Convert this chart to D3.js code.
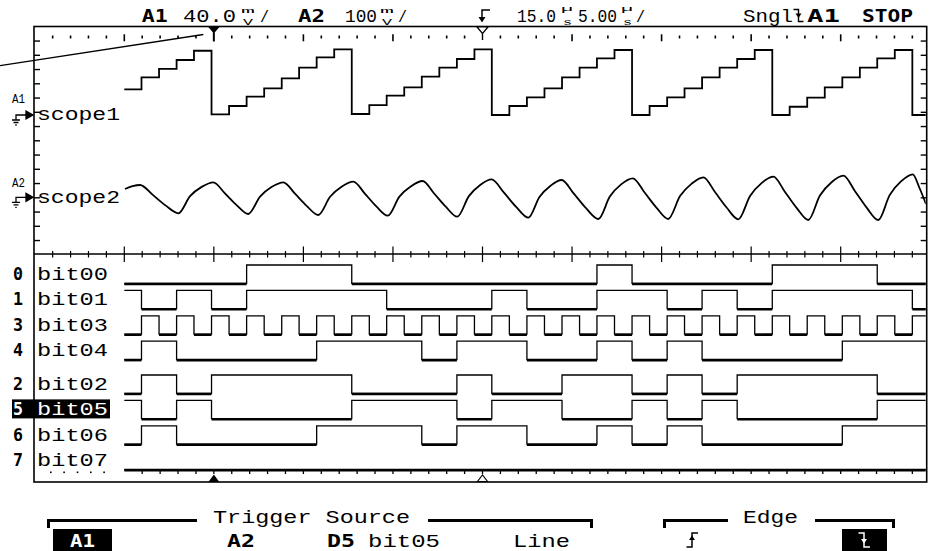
<!DOCTYPE html>
<html><head><meta charset="utf-8">
<script src="https://cdn.jsdelivr.net/npm/d3@7"></script>
<style>
body{margin:0;background:#fff}
svg{display:block}
text{font-family:"Liberation Mono","DejaVu Sans Mono",monospace}
text.b{font-family:"DejaVu Sans Mono",monospace;font-weight:bold}
</style>
</head><body>
<svg id="c" width="929" height="551"></svg>
<script>
// ---------------- DATA (time in µs, trigger = 0) ----------------
const edgeTimes = [-4.04, -3.06, -2.08, -1.11, -0.13, 0.85, 1.83, 2.81, 3.79, 4.76, 5.74, 6.72, 7.70, 8.68, 9.65, 10.63, 11.61, 12.59, 13.57, 14.55, 15.52, 16.50, 17.48, 18.46, 19.44, 20.42, 21.39, 22.37, 23.35, 24.33, 25.31, 26.28, 27.26, 28.24, 29.22, 30.20, 31.18, 32.15, 33.13, 34.11, 35.09, 36.07, 37.04, 38.02, 39.00];
const traceStart = -5.0;
// A1 (scope1) staircase, mV
const scope1Initial = 36.1;
const scope1Levels = [52.9, 64.6, 77.2, 90.2, 1.0, 12.6, 25.7, 37.5, 51.5, 66.4, 81.0, 92.2, 1.4, 14.0, 27.1, 38.9, 53.8, 66.4, 78.6, 92.2, 0.0, 12.6, 24.8, 37.5, 52.9, 66.4, 79.6, 91.2, 0.0, 12.6, 24.8, 37.5, 52.9, 66.4, 78.6, 91.2, 0.0, 11.6, 24.3, 38.9, 52.9, 66.4, 79.6, 91.2, 0.0];
// A2 (scope2), mV
const scope2Times = [-4.96, -4.54, -4.12, -3.41, -2.70, -1.98, -1.33, -0.68, -0.03, 0.62, 1.27, 1.92, 2.58, 3.22, 3.88, 4.53, 5.18, 5.83, 6.49, 7.13, 7.79, 8.43, 9.06, 9.71, 10.36, 11.01, 11.66, 12.30, 12.95, 13.59, 14.24, 14.87, 15.51, 16.20, 16.88, 17.56, 18.18, 18.80, 19.42, 20.10, 20.78, 21.47, 22.11, 22.74, 23.39, 24.05, 24.71, 25.37, 26.03, 26.68, 27.33, 27.98, 28.63, 29.28, 29.94, 30.58, 31.24, 31.89, 32.54, 33.19, 33.84, 34.49, 35.15, 35.80, 36.45, 37.10, 37.74, 38.38, 39.02, 39.40, 39.76];
const scope2Values = [29.1, 38.9, 43.2, 8.4, -28.4, -56.1, 3.9, 36.5, 52.6, 13.7, -27.4, -58.6, 2.5, 35.8, 52.6, 12.6, -29.8, -62.1, 2.1, 37.2, 54.7, 13.0, -31.2, -64.6, 2.5, 38.9, 57.2, 13.3, -33.0, -68.1, 4.2, 43.5, 63.2, 16.1, -33.7, -71.6, 1.1, 40.7, 60.7, 12.6, -37.9, -76.1, 2.5, 45.3, 66.7, 16.8, -36.1, -76.1, 4.2, 48.1, 70.2, 18.6, -35.8, -77.2, 4.9, 49.8, 72.3, 18.9, -37.2, -79.7, 6.0, 52.6, 75.8, 21.4, -36.1, -79.7, 8.4, 56.5, 80.7, 32.6, -23.5];
// Digital channels
const digitalNumbers = ["0", "1", "3", "4", "2", "5", "6", "7"];
const digitalNames = ["bit00", "bit01", "bit03", "bit04", "bit02", "bit05", "bit06", "bit07"];
const digitalInitial = [0, 1, 0, 0, 0, 1, 0, 0];
const bit00Toggles = [1.83, 7.70, 21.39, 23.35, 31.18, 37.04];
const bit01Toggles = [-4.04, -2.08, -0.13, 1.83, 9.65, 15.52, 17.48, 21.39, 25.31, 27.26, 29.22, 31.18, 39.00];
const bit03Toggles = edgeTimes;
const bit04Toggles = [-4.04, -2.08, 5.74, 11.61, 13.57, 17.48, 21.39, 23.35, 25.31, 27.26, 35.09];
const bit02Toggles = [-4.04, -2.08, -0.13, 7.70, 13.57, 15.52, 19.44, 23.35, 25.31, 27.26, 29.22, 37.04];
const bit05Toggles = [-4.04, -2.08, -0.13, 7.70, 13.57, 15.52, 19.44, 23.35, 25.31, 27.26, 29.22, 37.04];
const bit06Toggles = [-4.04, -2.08, 5.74, 11.61, 13.57, 17.48, 21.39, 23.35, 25.31, 27.26, 35.09];
const bit07Toggles = [];
const digitalToggles = [bit00Toggles, bit01Toggles, bit03Toggles, bit04Toggles, bit02Toggles, bit05Toggles, bit06Toggles, bit07Toggles];
const selectedChannel = "bit05";
// Header / menu texts
const headerCh1 = ["A1", "40.0"], headerCh2 = ["A2", "100"];
const headerTime = ["15.0", "5.00"];
const headerStatus = ["Sngl", "A1", "STOP"];
const menuTitles = ["Trigger Source", "Edge"];
const menuItems = ["A1", "A2", "D5", "bit05", "Line"];

// ---------------- LAYOUT ----------------
const svg = d3.select("#c");
const F = {x0: 34, x1: 926.7, y0: 26.5, y1: 482, divY: 254};
const x = d3.scaleLinear().domain([-10, 40]).range([34.75, 930.25]);
const tEnd = x.invert(F.x1);
const yA1 = d3.scaleLinear().domain([0, 40]).range([115, 86.5]);
const yA2 = d3.scaleLinear().domain([0, 100]).range([197.3, 168.8]);
const ySub = d3.scaleLinear().domain([0, 16]).range([26.8, 254.8]);
const rowTop = i => (i < 4 ? 265 + i * 25.4 : 375 + (i - 4) * 25.4);
const swing = 18.3;

function T(parent, s, px, py, size, len, bold, fill) {
  const t = parent.append("text").attr("x", px).attr("y", py).attr("font-size", size).text(s)
    .style("fill", fill || "#000");
  if (len) t.attr("textLength", len).attr("lengthAdjust", "spacingAndGlyphs");
  if (bold) t.attr("class", "b");
  return t;
}

svg.append("defs").append("clipPath").attr("id", "clip")
  .append("rect").attr("x", F.x0 + 1).attr("y", F.y0 + 1).attr("width", F.x1 - F.x0 - 2).attr("height", F.y1 - F.y0 - 2);

// Frame
svg.append("rect").attr("x", F.x0).attr("y", F.y0).attr("width", F.x1 - F.x0).attr("height", F.y1 - F.y0)
  .attr("fill", "none").attr("stroke", "#000").attr("stroke-width", 1.6);

const minorT = d3.range(-9, 40).filter(v => v % 5 !== 0);
const majorT = d3.range(-5, 40, 5);
const g = svg.append("g").attr("stroke", "#000");

// top tick row
g.selectAll(".tmin").data(minorT).join("line").attr("x1", d => x(d)).attr("x2", d => x(d))
  .attr("y1", 35.5).attr("y2", 38.5).attr("stroke-width", 1.6);
g.selectAll(".tmaj").data(majorT.filter(d => d !== 0 && d !== 15)).join("line").attr("x1", d => x(d)).attr("x2", d => x(d))
  .attr("y1", 34.3).attr("y2", 41.3).attr("stroke-width", 1.6);

// divider row
g.append("line").attr("x1", F.x0).attr("x2", F.x1).attr("y1", F.divY).attr("y2", F.divY).attr("stroke-width", 1.4);
g.selectAll(".dmin").data(minorT).join("line").attr("x1", d => x(d)).attr("x2", d => x(d))
  .attr("y1", F.divY - 3).attr("y2", F.divY + 3.5).attr("stroke-width", 1.2);
g.selectAll(".dmaj").data(majorT).join("line").attr("x1", d => x(d)).attr("x2", d => x(d))
  .attr("y1", F.divY - 7.5).attr("y2", F.divY + 8).attr("stroke-width", 1.2);

// side ticks (analog area)
const sideN = d3.range(1, 16);
g.selectAll(".lt").data(sideN).join("line").attr("x1", F.x0).attr("x2", F.x0 + 6)
  .attr("y1", d => ySub(d)).attr("y2", d => ySub(d)).attr("stroke-width", 1.4);
g.selectAll(".rt").data(sideN).join("line").attr("x1", F.x1 - 6).attr("x2", F.x1)
  .attr("y1", d => ySub(d)).attr("y2", d => ySub(d)).attr("stroke-width", 1.4);

// bottom tick row (below bit07 trace)
const botT = d3.range(-4, 40);
g.selectAll(".bt").data(botT).join("line").attr("x1", d => x(d)).attr("x2", d => x(d))
  .attr("y1", 470).attr("y2", 474).attr("stroke-width", 1.3);
svg.selectAll(".bdot").data([50, 63.3, 76.7, 90, 103.3]).join("rect")
  .attr("x", d => d).attr("y", 471.5).attr("width", 1.6).attr("height", 1.6).attr("fill", "#000");

// trigger markers
const xt = x(0), xd = x(15);
svg.append("path").attr("d", `M${xt-6},${F.y0} L${xt+6},${F.y0} L${xt},${F.y0+7} Z`).attr("fill", "#000");
svg.append("line").attr("x1", xt).attr("x2", xt).attr("y1", F.y0 + 6).attr("y2", 41.5).attr("stroke", "#000").attr("stroke-width", 2);
svg.append("path").attr("d", `M${xd-5.5},${F.y0+0.5} L${xd+5.5},${F.y0+0.5} L${xd},${F.y0+7} Z`).attr("fill", "#fff").attr("stroke", "#000").attr("stroke-width", 1.2);
svg.append("line").attr("x1", xd).attr("x2", xd).attr("y1", F.y0 + 7).attr("y2", 40).attr("stroke", "#000").attr("stroke-width", 1.4);
svg.append("path").attr("d", `M${xt-5.5},${F.y1} L${xt+5.5},${F.y1} L${xt},${F.y1-7.5} Z`).attr("fill", "#000");
svg.append("path").attr("d", `M${xd-5},${F.y1-0.5} L${xd+5},${F.y1-0.5} L${xd},${F.y1-7} Z`).attr("fill", "#fff").attr("stroke", "#000").attr("stroke-width", 1.1);

// pointer annotation line
svg.append("line").attr("x1", 0).attr("y1", 65.7).attr("x2", xt - 10.5).attr("y2", 34.5)
  .attr("stroke", "#000").attr("stroke-width", 1.3);

// ---------------- TRACES ----------------
const plot = svg.append("g").attr("clip-path", "url(#clip)");

// scope1
const s1pts = [[traceStart, scope1Initial]].concat(edgeTimes.map((t, i) => [t, scope1Levels[i]]));
s1pts.push([tEnd, scope1Levels[scope1Levels.length - 1]]);
plot.append("path").datum(s1pts)
  .attr("d", d3.line().x(d => x(d[0])).y(d => yA1(d[1])).curve(d3.curveStepAfter))
  .attr("fill", "none").attr("stroke", "#000").attr("stroke-width", 1.8);

// scope2
const s2pts = scope2Times.map((t, i) => [t, scope2Values[i]]);
plot.append("path").datum(s2pts)
  .attr("d", d3.line().x(d => x(d[0])).y(d => yA2(d[1])).curve(d3.curveMonotoneX))
  .attr("fill", "none").attr("stroke", "#000").attr("stroke-width", 1.8);

// digital
digitalNames.forEach((name, i) => {
  const top = rowTop(i);
  const yd = v => top + (1 - v) * swing;
  let st = digitalInitial[i];
  const pts = [[traceStart, st]];
  const lows = [];
  let segStart = traceStart;
  digitalToggles[i].forEach(t => {
    if (st === 0) lows.push([segStart, t]);
    st = 1 - st; segStart = t;
    pts.push([t, st]);
  });
  if (st === 0) lows.push([segStart, tEnd]);
  pts.push([tEnd, st]);
  plot.append("path").datum(pts)
    .attr("d", d3.line().x(d => x(d[0])).y(d => yd(d[1])).curve(d3.curveStepAfter))
    .attr("fill", "none").attr("stroke", "#000").attr("stroke-width", 1.3);
  plot.selectAll(null).data(lows).join("line")
    .attr("x1", d => x(d[0])).attr("x2", d => x(d[1]))
    .attr("y1", yd(0) + 0.7).attr("y2", yd(0) + 0.7)
    .attr("stroke", "#000").attr("stroke-width", 2.4);

  // labels
  const base = top + 15;
  if (name === selectedChannel) {
    svg.append("rect").attr("x", 12).attr("y", top - 1).attr("width", 98).attr("height", 19).attr("fill", "#000");
    T(svg, digitalNumbers[i], 13, base, 18, 10, true, "#fff");
    T(svg, name, 37, base, 18, 71, false, "#fff");
  } else {
    T(svg, digitalNumbers[i], 13, base, 18, 10, true);
    T(svg, name, 37, base, 18, 71, false);
  }
});

// ---------------- ANALOG LABELS ----------------
function groundArrow(yc) {
  const p = svg.append("g").attr("stroke", "#000").attr("fill", "none").attr("stroke-width", 1.3);
  p.append("path").attr("d", `M16,${yc+5} V${yc} H27`);
  p.append("path").attr("d", `M26,${yc-4} L33,${yc} L26,${yc+4} Z`).attr("fill", "#000");
  p.append("path").attr("d", `M12,${yc+5} H20 M13.5,${yc+7.5} H18.5 M15.3,${yc+10} H16.7`);
}
T(svg, "A1", 12, 103, 13, 13);
groundArrow(yA1(0));
T(svg, "scope1", 37, 120, 18, 83);
T(svg, "A2", 12, 186.5, 13, 13);
groundArrow(yA2(0));
T(svg, "scope2", 37, 203, 18, 83);

// ---------------- HEADER ----------------
function stacked(px, top, bottom, lenTop, lenBot, topBase) {
  T(svg, top, px, topBase, 8, lenTop);
  T(svg, bottom, px + 2, 24.5, 9, lenBot);
}
T(svg, headerCh1[0], 141.7, 21.7, 18, 26, true);
T(svg, headerCh1[1], 183, 21.7, 18, 53);
stacked(241, "m", "V", 14, 10, 12.5);
T(svg, "/", 260, 21.7, 16, 9);
T(svg, headerCh2[0], 298, 21.7, 18, 27, true);
T(svg, headerCh2[1], 345, 21.7, 18, 32);
stacked(380, "m", "V", 14, 10, 12.5);
T(svg, "/", 398, 21.7, 16, 9);
svg.append("path").attr("d", "M490,10 H482 V19").attr("fill", "none").attr("stroke", "#000").attr("stroke-width", 1.5);
svg.append("path").attr("d", "M478.5,17 L485.5,17 L482,22.5 Z").attr("fill", "#000");
T(svg, headerTime[0], 517, 21.7, 18, 39);
stacked(561, "µ", "s", 12, 9, 11);
T(svg, headerTime[1], 578, 21.7, 18, 39);
stacked(621, "µ", "s", 12, 9, 11);
T(svg, "/", 636, 21.7, 16, 9);
T(svg, headerStatus[0], 743, 21.7, 18, 50);
svg.append("path").attr("d", "M793.5,9.5 H798.5 V21.5 H803.5").attr("fill", "none").attr("stroke", "#000").attr("stroke-width", 1.4);
svg.append("path").attr("d", "M795.5,13.5 L801.5,13.5 L798.5,18 Z").attr("fill", "#000");
T(svg, headerStatus[1], 807, 21.7, 18, 33, true);
T(svg, headerStatus[2], 862, 21.7, 18, 51, true);

// ---------------- MENU ----------------
const m = svg.append("g").attr("fill", "none").attr("stroke", "#000").attr("stroke-width", 3);
m.append("path").attr("d", "M48.5,528 V520.5 H197");
m.append("path").attr("d", "M428,520.5 H591.5 V528");
m.append("path").attr("d", "M664.5,528 V520.5 H728");
m.append("path").attr("d", "M815,520.5 H893.5 V528");
T(svg, menuTitles[0], 213, 523, 18, 197);
T(svg, menuTitles[1], 743, 523, 18, 55);
svg.append("rect").attr("x", 53).attr("y", 529).attr("width", 59).attr("height", 22).attr("fill", "#000");
T(svg, menuItems[0], 70, 547, 17, 25, true, "#fff");
T(svg, menuItems[1], 227, 547, 17, 28, true);
T(svg, menuItems[2], 327, 547, 17, 28, true);
T(svg, menuItems[3], 368, 547, 18, 72);
T(svg, menuItems[4], 513, 547, 18, 57);
svg.append("path").attr("d", "M686.5,547 H692 V533 H698").attr("fill", "none").attr("stroke", "#000").attr("stroke-width", 1.5);
svg.append("path").attr("d", "M689,540 L695,540 L692,535.5 Z").attr("fill", "#000");
svg.append("rect").attr("x", 842).attr("y", 529).attr("width", 45).attr("height", 22).attr("fill", "#000");
svg.append("path").attr("d", "M858.5,533 H864 V547 H870").attr("fill", "none").attr("stroke", "#fff").attr("stroke-width", 1.5);
svg.append("path").attr("d", "M861,539 L867,539 L864,543.5 Z").attr("fill", "#fff");
</script>
</body></html>
